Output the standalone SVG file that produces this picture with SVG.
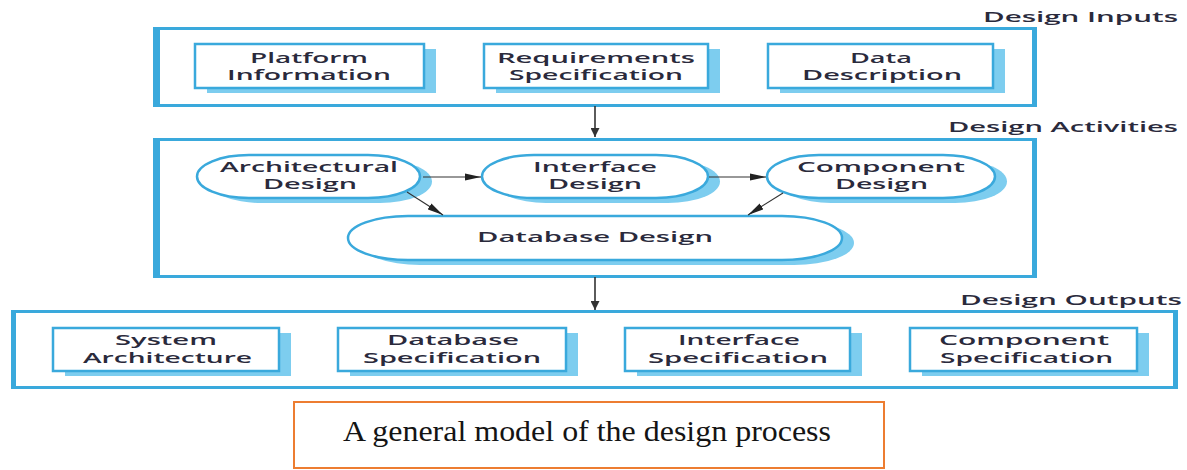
<svg xmlns="http://www.w3.org/2000/svg" width="1187" height="470" viewBox="0 0 1187 470">
<defs>
<style>
.cont{fill:#ffffff;stroke:#3aa9dc;stroke-width:3}
.thick{fill:#3aa9dc}
.box{fill:#ffffff;stroke:#3aa9dc;stroke-width:2.5}
.shadow{fill:#7dcdef}
.t{font-family:"Open Sans","DejaVu Sans",sans-serif;font-weight:600;font-size:14.5px;fill:#2a2a3c}
.lbl{font-family:"Open Sans","DejaVu Sans",sans-serif;font-weight:600;font-size:14.5px;fill:#2a2a3c}
.cap{font-family:"Liberation Serif","Times New Roman",serif;font-size:29px;fill:#141414}
.big{stroke:#333333;stroke-width:1.6;fill:none}
.small{stroke:#333333;stroke-width:1.1;fill:none}
</style>
<marker id="ah" viewBox="0 0 10 10" refX="10" refY="5" markerWidth="9" markerHeight="9" markerUnits="userSpaceOnUse" orient="auto"><path d="M0,0 L10,5 L0,10 z" fill="#333333"/></marker>
<marker id="ahs" viewBox="0 0 16 8" refX="16" refY="4" markerWidth="16" markerHeight="8" markerUnits="userSpaceOnUse" orient="auto"><path d="M0,0.5 L16,4 L0,7.5 z" fill="#222222"/></marker>
</defs>

<g id="design-inputs">
<rect class="cont" x="154.5" y="28.5" width="880" height="77"/>
<rect class="thick" x="153" y="27" width="7" height="80"/>
<rect class="thick" x="1032" y="27" width="5" height="80"/>
<text class="lbl" x="983" y="22" textLength="195" lengthAdjust="spacingAndGlyphs">Design Inputs</text>
</g>
<g id="platform-information">
<rect class="shadow" x="207" y="49" width="229" height="44"/>
<rect class="box" x="195" y="44" width="229" height="44"/>
<text class="t" x="250" y="62.5" textLength="118" lengthAdjust="spacingAndGlyphs">Platform</text>
<text class="t" x="227" y="79.5" textLength="164" lengthAdjust="spacingAndGlyphs">Information</text>
</g>
<g id="requirements-specification">
<rect class="shadow" x="496" y="49" width="224" height="44"/>
<rect class="box" x="484" y="44" width="224" height="44"/>
<text class="t" x="497" y="62.5" textLength="198" lengthAdjust="spacingAndGlyphs">Requirements</text>
<text class="t" x="509" y="79.5" textLength="174" lengthAdjust="spacingAndGlyphs">Specification</text>
</g>
<g id="data-description">
<rect class="shadow" x="780" y="49" width="225" height="44"/>
<rect class="box" x="768" y="44" width="225" height="44"/>
<text class="t" x="850" y="62.5" textLength="62" lengthAdjust="spacingAndGlyphs">Data</text>
<text class="t" x="802" y="79.5" textLength="160" lengthAdjust="spacingAndGlyphs">Description</text>
</g>

<g id="design-activities">
<rect class="cont" x="154.5" y="139.5" width="880" height="137"/>
<rect class="thick" x="153" y="138" width="7" height="140"/>
<rect class="thick" x="1032" y="138" width="5" height="140"/>
<text class="lbl" x="948" y="132" textLength="230" lengthAdjust="spacingAndGlyphs">Design Activities</text>
</g>
<g id="architectural-design">
<rect class="shadow" x="209" y="160" width="223" height="43" rx="52" ry="21.5"/>
<rect class="box" x="197" y="155" width="223" height="43" rx="52" ry="21.5"/>
<text class="t" x="220" y="172" textLength="178" lengthAdjust="spacingAndGlyphs">Architectural</text>
<text class="t" x="263" y="189" textLength="94" lengthAdjust="spacingAndGlyphs">Design</text>
</g>
<g id="interface-design">
<rect class="shadow" x="494" y="160" width="226" height="43" rx="52" ry="21.5"/>
<rect class="box" x="482" y="155" width="226" height="43" rx="52" ry="21.5"/>
<text class="t" x="533" y="172" textLength="124" lengthAdjust="spacingAndGlyphs">Interface</text>
<text class="t" x="548" y="189" textLength="94" lengthAdjust="spacingAndGlyphs">Design</text>
</g>
<g id="component-design">
<rect class="shadow" x="779" y="160" width="228" height="43" rx="52" ry="21.5"/>
<rect class="box" x="767" y="155" width="228" height="43" rx="52" ry="21.5"/>
<text class="t" x="797" y="172" textLength="168" lengthAdjust="spacingAndGlyphs">Component</text>
<text class="t" x="835" y="189" textLength="93" lengthAdjust="spacingAndGlyphs">Design</text>
</g>
<g id="database-design">
<rect class="shadow" x="360" y="221" width="494" height="44" rx="60" ry="22"/>
<rect class="box" x="348" y="216" width="494" height="44" rx="60" ry="22"/>
<text class="t" x="477" y="242" textLength="236" lengthAdjust="spacingAndGlyphs">Database Design</text>
</g>

<g id="design-outputs">
<rect class="cont" x="12.5" y="311.5" width="1163" height="76"/>
<rect class="thick" x="11" y="310" width="5" height="79"/>
<rect class="thick" x="1173" y="310" width="5" height="79"/>
<text class="lbl" x="960" y="305" textLength="222" lengthAdjust="spacingAndGlyphs">Design Outputs</text>
</g>
<g id="system-architecture">
<rect class="shadow" x="65" y="333" width="226" height="43"/>
<rect class="box" x="53" y="328" width="226" height="43"/>
<text class="t" x="115" y="344.5" textLength="102" lengthAdjust="spacingAndGlyphs">System</text>
<text class="t" x="83" y="362.5" textLength="169" lengthAdjust="spacingAndGlyphs">Architecture</text>
</g>
<g id="database-specification">
<rect class="shadow" x="350" y="333" width="228" height="43"/>
<rect class="box" x="338" y="328" width="228" height="43"/>
<text class="t" x="387" y="344.5" textLength="132" lengthAdjust="spacingAndGlyphs">Database</text>
<text class="t" x="363" y="362.5" textLength="178" lengthAdjust="spacingAndGlyphs">Specification</text>
</g>
<g id="interface-specification">
<rect class="shadow" x="637" y="333" width="225" height="43"/>
<rect class="box" x="625" y="328" width="225" height="43"/>
<text class="t" x="678" y="344.5" textLength="122" lengthAdjust="spacingAndGlyphs">Interface</text>
<text class="t" x="648" y="362.5" textLength="180" lengthAdjust="spacingAndGlyphs">Specification</text>
</g>
<g id="component-specification">
<rect class="shadow" x="922" y="333" width="227" height="43"/>
<rect class="box" x="910" y="328" width="227" height="43"/>
<text class="t" x="939" y="344.5" textLength="170" lengthAdjust="spacingAndGlyphs">Component</text>
<text class="t" x="940" y="362.5" textLength="173" lengthAdjust="spacingAndGlyphs">Specification</text>
</g>

<g id="connectors">
<line class="big" x1="595" y1="106" x2="595" y2="137" marker-end="url(#ah)"/>
<line class="big" x1="595" y1="277" x2="595" y2="310" marker-end="url(#ah)"/>
<line class="small" x1="423" y1="177" x2="481" y2="177" marker-end="url(#ahs)"/>
<line class="small" x1="709" y1="177" x2="766" y2="177" marker-end="url(#ahs)"/>
<line class="small" x1="407" y1="192" x2="443" y2="215" marker-end="url(#ahs)"/>
<line class="small" x1="783" y1="193" x2="748" y2="215" marker-end="url(#ahs)"/>
</g>

<g id="caption">
<rect x="294" y="402" width="590" height="66" fill="#ffffff" stroke="#ed7d31" stroke-width="2"/>
<text class="cap" x="343" y="441" textLength="488" lengthAdjust="spacingAndGlyphs">A general model of the design process</text>
</g>
</svg>
